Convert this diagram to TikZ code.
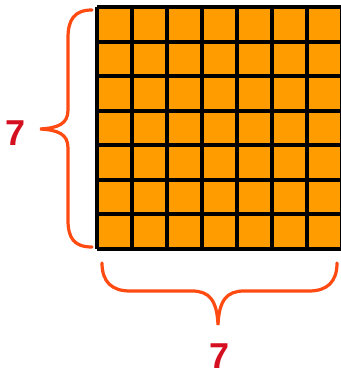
\documentclass[tikz,border=0pt]{standalone}
\usepackage{fontspec}
\setmainfont{Liberation Sans}
\usetikzlibrary{calc}
\definecolor{tile}{HTML}{FF9D00}
\definecolor{bracecol}{HTML}{FF4A12}
\definecolor{labelcol}{HTML}{D41020}
\tikzset{gridline/.style={line width=3pt,black},brace/.style={bracecol,line width=2.4pt,line cap=round},count/.style={labelcol,font=\fontsize{27}{27}\selectfont\bfseries}}
\begin{document}
\begin{tikzpicture}[x=0.75pt,y=-0.75pt]
\useasboundingbox (0,0) rectangle (341,374);
\fill[tile] (97,7) rectangle (342,249);
\foreach \i in {0,...,7}{\draw[gridline] ($(97,7)+(\i*35,0)$)--($(97,249)+(\i*35,0)$);\draw[gridline] ($(97,7)+(0,\i*242/7)$)--($(342,7)+(0,\i*242/7)$);}
\draw[brace] (92,10)..controls (74,10) and (68,20)..(68,38)--(68,110)..controls (68,124) and (58,128)..(40,129)..controls (58,130) and (68,134)..(68,148)--(68,220)..controls (68,238) and (74,247)..(92,247);
\node[count] (sideleft) at (16,133){7};
\draw[brace] (102,263)..controls (102,282) and (112,291)..(130,291)--(192,291)..controls (209,291) and (217,300)..(218,325)..controls (219,300) and (227,291)..(244,291)--(309,291)..controls (327,291) and (337,282)..(337,263);
\node[count] (sidebottom) at (220,356){7};
\end{tikzpicture}
\end{document}
